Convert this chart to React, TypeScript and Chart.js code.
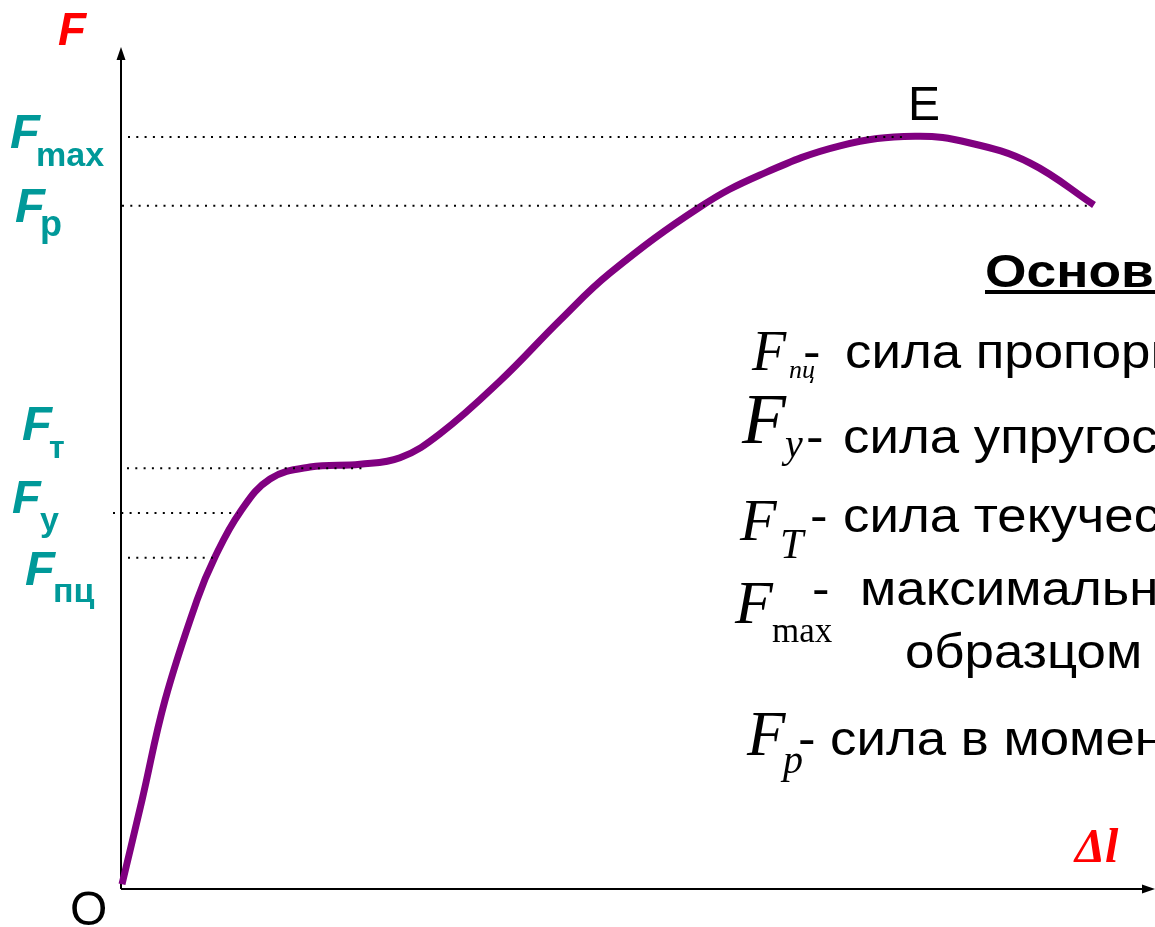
import React, { useEffect, useRef } from "react";
import { Chart, registerables } from "chart.js";

Chart.register(...registerables);

// Curve F(Δl): elongation (x) and force (y), arbitrary units
const curveX = [0.1, 2.1, 4.4, 7.6, 9.4, 11.9, 14.9, 18.9, 23.9, 27.9, 31.9, 37.9, 43.9, 48.9, 57.9, 63.9, 71.9, 79.4, 84.9, 90.9, 97.3];
const curveY = [0.6, 11.1, 23.6, 36.1, 41.5, 47.1, 51.25, 52.75, 53.1, 53.9, 56.9, 63.5, 71.1, 77.0, 85.25, 89.25, 92.9, 94.1, 93.25, 90.75, 85.5];

// Characteristic force levels (dotted reference lines)
const levelNames = ["Fmax", "Fp", "Fт", "Fу", "Fпц"];
const levelY = [94.0, 85.4, 52.6, 47.0, 41.4];
const levelStartX = [0.7, 0.1, 0.6, -0.8, 0.7];
const levelEndX = [78.4, 97.2, 24.4, 11.7, 9.4];

const SANS = "'Liberation Sans', Arial, sans-serif";
const SERIF = "'Liberation Serif', 'Times New Roman', serif";
const TEAL = "#009999";
const PURPLE = "#800080";

function txt(ctx: CanvasRenderingContext2D, s: string, x: number, y: number, font: string, color: string, sx = 1) {
  ctx.save();
  ctx.font = font;
  ctx.fillStyle = color;
  ctx.textAlign = "left";
  ctx.textBaseline = "alphabetic";
  ctx.translate(x, y);
  ctx.scale(sx, 1);
  ctx.fillText(s, 0, 0);
  ctx.restore();
}

const axesPlugin = {
  id: "axesArrows",
  beforeDatasetsDraw(chart: any) {
    const ctx: CanvasRenderingContext2D = chart.ctx;
    const xs = chart.scales.x;
    const ys = chart.scales.y;
    const x0 = xs.getPixelForValue(0);
    const y0 = ys.getPixelForValue(0);
    const topTip = 47;
    const rightTip = chart.width;
    ctx.save();
    ctx.strokeStyle = "#000";
    ctx.fillStyle = "#000";
    ctx.lineWidth = 2;
    ctx.beginPath();
    ctx.moveTo(x0, y0);
    ctx.lineTo(x0, topTip + 10);
    ctx.moveTo(x0, y0);
    ctx.lineTo(rightTip - 10, y0);
    ctx.stroke();
    // arrow heads
    ctx.beginPath();
    ctx.moveTo(x0, topTip);
    ctx.lineTo(x0 - 4.5, topTip + 13);
    ctx.lineTo(x0 + 4.5, topTip + 13);
    ctx.closePath();
    ctx.fill();
    ctx.beginPath();
    ctx.moveTo(rightTip, y0);
    ctx.lineTo(rightTip - 13, y0 - 4.5);
    ctx.lineTo(rightTip - 13, y0 + 4.5);
    ctx.closePath();
    ctx.fill();
    ctx.restore();
  },
};

const textPlugin = {
  id: "labels",
  afterDatasetsDraw(chart: any) {
    const ctx: CanvasRenderingContext2D = chart.ctx;
    const bi = (n: number) => `italic bold ${n}px ${SANS}`;
    const b = (n: number) => `bold ${n}px ${SANS}`;
    // axis labels
    txt(ctx, "F", 58, 45, bi(46), "#ff0000");
    txt(ctx, "Δl", 1075, 862, `italic bold 48px ${SERIF}`, "#ff0000");
    txt(ctx, "O", 70, 925, `48px ${SANS}`, "#000");
    txt(ctx, "E", 908, 120, `48px ${SANS}`, "#000");
    // left level labels
    txt(ctx, "F", 10, 148, bi(49), TEAL);
    txt(ctx, "max", 36, 166, b(34), TEAL);
    txt(ctx, "F", 15, 222, bi(49), TEAL);
    txt(ctx, "р", 40, 236, b(36), TEAL);
    txt(ctx, "F", 22, 440, bi(49), TEAL);
    txt(ctx, "т", 49, 458, b(32), TEAL);
    txt(ctx, "F", 12, 513, bi(47), TEAL);
    txt(ctx, "у", 40, 531, b(34), TEAL);
    txt(ctx, "F", 25, 585, bi(49), TEAL);
    txt(ctx, "пц", 53, 602, b(34), TEAL);

    // right side legend
    const body = `48px ${SANS}`;
    const sx = 1.1;
    txt(ctx, "Основные характеристики", 985, 287, b(46), "#000", 1.16);
    ctx.save();
    ctx.fillStyle = "#000";
    ctx.fillRect(985, 290, chart.width - 985, 4);
    ctx.restore();

    const fi = (n: number) => `italic ${n}px ${SERIF}`;
    // F пц
    txt(ctx, "F", 752, 370, fi(56), "#000");
    txt(ctx, "пц", 789, 378, fi(26), "#000");
    txt(ctx, "-", 803, 368, body, "#000", sx);
    txt(ctx, "сила пропорциональности", 845, 368, body, "#000", sx);
    // F у
    txt(ctx, "F", 742, 443, fi(72), "#000");
    txt(ctx, "у", 785, 457, fi(40), "#000");
    txt(ctx, "-", 806, 453, body, "#000", sx);
    txt(ctx, "сила упругости", 843, 453, body, "#000", sx);
    // F T
    txt(ctx, "F", 740, 540, fi(60), "#000");
    txt(ctx, "T", 780, 558, fi(42), "#000");
    txt(ctx, "-", 810, 532, body, "#000", sx);
    txt(ctx, "сила текучести", 843, 532, body, "#000", sx);
    // F max
    txt(ctx, "F", 735, 623, fi(62), "#000");
    txt(ctx, "max", 772, 642, `${35}px ${SERIF}`, "#000");
    txt(ctx, "-", 812, 605, body, "#000", sx);
    txt(ctx, "максимальная сила,", 860, 605, body, "#000", sx);
    txt(ctx, "образцом", 905, 668, body, "#000", sx);
    // F p
    txt(ctx, "F", 747, 755, fi(63), "#000");
    txt(ctx, "p", 783, 773, fi(40), "#000");
    txt(ctx, "-", 798, 755, body, "#000", sx);
    txt(ctx, "сила в момент разрыва", 830, 755, body, "#000", sx);
  },
};

export default function App() {
  const ref = useRef<HTMLCanvasElement>(null);
  useEffect(() => {
    if (!ref.current) return;
    const curve = curveX.map((x, i) => ({ x, y: curveY[i] }));
    const levelSets = levelNames.map((name, i) => ({
      label: name,
      data: [
        { x: levelStartX[i], y: levelY[i] },
        { x: levelEndX[i], y: levelY[i] },
      ],
      borderColor: "#000",
      borderWidth: 2,
      borderDash: [2, 6.3],
      pointRadius: 0,
      fill: false,
      tension: 0,
      order: 1,
      clip: false as any,
    }));
    const chart = new Chart(ref.current, {
      type: "line",
      data: {
        datasets: [
          ...levelSets,
          {
            label: "F(Δl)",
            data: curve,
            borderColor: PURPLE,
            borderWidth: 7,
            pointRadius: 0,
            fill: false,
            tension: 0.4,
            order: 2,
            clip: false as any,
          },
        ],
      },
      options: {
        responsive: false,
        animation: false,
        devicePixelRatio: 1,
        layout: { padding: 0 },
        plugins: { legend: { display: false }, tooltip: { enabled: false }, title: { display: false } },
        scales: {
          x: { type: "linear", min: -12.1, max: 103.4, display: false },
          y: { type: "linear", min: -4.75, max: 111.125, display: false },
        },
      },
      plugins: [axesPlugin, textPlugin],
    });
    return () => chart.destroy();
  }, []);
  return (
    <div style={{ position: "fixed", left: 0, top: 0, width: 1155, height: 927, background: "#fff" }}>
      <canvas ref={ref} width={1155} height={927} />
    </div>
  );
}
